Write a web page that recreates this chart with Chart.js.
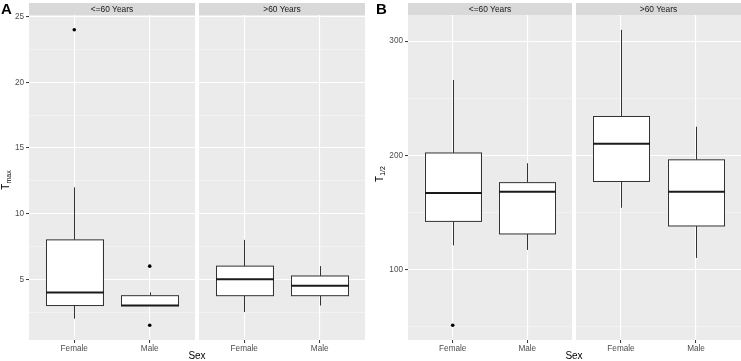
<!DOCTYPE html>
<html>
<head>
<meta charset="utf-8">
<script src="https://cdn.jsdelivr.net/npm/chart.js@4/dist/chart.umd.min.js"></script>
<style>
  body { margin: 0; background: #fff; width: 741px; height: 361px; position: relative; overflow: hidden; font-family: "Liberation Sans", Arial, sans-serif; }
  canvas { position: absolute; left: 0; top: 0; }
  .strip { position: absolute; top: 3px; height: 12px; line-height: 12px; background: #d9d9d9; color: #1a1a1a; font-size: 8.4px; text-align: center; }
  .tag { position: absolute; top: 0; font-size: 15px; font-weight: bold; color: #000; line-height: 17px; }
  .xtitle { position: absolute; top: 350px; font-size: 10px; color: #000; transform: translateX(-50%); }
  .ytitle { position: absolute; font-size: 10px; color: #000; white-space: nowrap; transform: translate(-50%, -50%) rotate(-90deg); }
  .ytitle sub { font-size: 7px; vertical-align: -2px; }
</style>
</head>
<body>
<canvas id="aYoung" width="741" height="361"></canvas>
<canvas id="aOld" width="741" height="361"></canvas>
<canvas id="bYoung" width="741" height="361"></canvas>
<canvas id="bOld" width="741" height="361"></canvas>

<div class="tag" style="left:1px">A</div>
<div class="tag" style="left:376px">B</div>
<div class="strip" style="left:29px;width:166px">&lt;=60 Years</div>
<div class="strip" style="left:199px;width:166px">&gt;60 Years</div>
<div class="strip" style="left:408px;width:164px">&lt;=60 Years</div>
<div class="strip" style="left:576px;width:165px">&gt;60 Years</div>
<div class="xtitle" style="left:197px">Sex</div>
<div class="xtitle" style="left:574px">Sex</div>
<div class="ytitle" style="left:6px;top:180px">T<sub>max</sub></div>
<div class="ytitle" style="left:380px;top:174px">T<sub>1/2</sub></div>

<script>
// categories
const sexes = ['Female', 'Male'];

// box stats per sex: [lower whisker, q1, median, q3, upper whisker]
const tmaxYoung = [[2, 3, 4, 8, 12], [3, 3, 3, 3.75, 4]];
const tmaxOld = [[2.5, 3.75, 5, 6, 8], [3, 3.75, 4.5, 5.25, 6]];
const thalfYoung = [[121, 142, 167, 202, 266], [117, 131, 168, 176, 193]];
const thalfOld = [[154, 177, 210, 234, 310], [110, 138, 168, 196, 225]];

// outliers per sex
const tmaxYoungOut = [[24], [6, 1.5]];
const tmaxOldOut = [[], []];
const thalfYoungOut = [[51], []];
const thalfOldOut = [[], []];

// y axis ticks and limits
const tmaxTicks = [5, 10, 15, 20, 25];
const thalfTicks = [100, 200, 300];
const tmaxLimits = [0.375, 25.125];
const thalfLimits = [38, 323];

Chart.defaults.font.family = '"Liberation Sans", Arial, sans-serif';
Chart.defaults.font.size = 8.2;
Chart.defaults.color = '#4d4d4d';

const W = 741, H = 361;
const BOX_W = 0.75;

const panelBg = {
  id: 'panelBg',
  beforeDraw(chart) {
    const a = chart.chartArea, ctx = chart.ctx;
    ctx.save();
    ctx.fillStyle = '#ebebeb';
    ctx.fillRect(a.left, a.top, a.right - a.left, a.bottom - a.top);
    ctx.restore();
  }
};

const boxes = {
  id: 'boxes',
  beforeDatasetsDraw(chart, args, opts) {
    const ctx = chart.ctx, xs = chart.scales.x, ys = chart.scales.y;
    ctx.save();
    opts.stats.forEach((s, i) => {
      const cx = xs.getPixelForValue(i + 1);
      const x0 = xs.getPixelForValue(i + 1 - BOX_W / 2);
      const x1 = xs.getPixelForValue(i + 1 + BOX_W / 2);
      const [lo, q1, med, q3, hi] = s.map(v => ys.getPixelForValue(v));
      ctx.strokeStyle = '#333333';
      ctx.lineWidth = 1;
      const xc = Math.round(cx) + 0.5;
      ctx.beginPath();
      ctx.moveTo(xc, lo); ctx.lineTo(xc, q1);
      ctx.moveTo(xc, q3); ctx.lineTo(xc, hi);
      ctx.stroke();
      ctx.fillStyle = '#ffffff';
      ctx.fillRect(x0, q3, x1 - x0, q1 - q3);
      ctx.strokeRect(Math.round(x0) + 0.5, q3, Math.round(x1 - x0), q1 - q3);
      ctx.lineWidth = 2;
      ctx.strokeStyle = '#1a1a1a';
      ctx.beginPath();
      ctx.moveTo(Math.round(x0), med); ctx.lineTo(Math.round(x1) + 1, med);
      ctx.stroke();
    });
    ctx.restore();
  }
};

function makeFacet(id, area, stats, outs, limits, majors, showY) {
  const step = majors[1] - majors[0];
  const all = [];
  for (let v = majors[0] - step / 2; v <= limits[1]; v += step / 2) {
    if (v >= limits[0]) all.push(v);
  }
  const isMajor = v => majors.includes(v);
  const yWidth = showY ? 30 : 0;
  const points = [];
  outs.forEach((list, i) => list.forEach(v => points.push({ x: i + 1, y: v })));

  new Chart(document.getElementById(id), {
    type: 'scatter',
    data: {
      datasets: [{
        data: points,
        backgroundColor: '#000000',
        borderWidth: 0,
        pointRadius: 1.8
      }]
    },
    plugins: [panelBg, boxes],
    options: {
      responsive: false,
      animation: false,
      events: [],
      layout: { padding: { left: area.left - yWidth, top: area.top, right: W - area.right, bottom: 0 } },
      plugins: {
        legend: { display: false },
        tooltip: { enabled: false },
        boxes: { stats: stats }
      },
      scales: {
        x: {
          type: 'linear',
          min: 0.4,
          max: 2.6,
          afterBuildTicks: s => { s.ticks = [{ value: 1 }, { value: 2 }]; },
          afterFit: s => { s.height = H - area.bottom; },
          ticks: { callback: v => sexes[v - 1], padding: 1, autoSkip: false, maxRotation: 0, color: '#4d4d4d' },
          grid: { color: '#ffffff', lineWidth: 1.1, tickColor: '#333333', tickLength: 3, tickWidth: 1 },
          border: { display: false }
        },
        y: {
          type: 'linear',
          min: limits[0],
          max: limits[1],
          afterBuildTicks: s => { s.ticks = all.map(v => ({ value: v })); },
          afterFit: s => { s.width = yWidth; },
          ticks: {
            display: showY,
            autoSkip: false,
            padding: 2,
            color: '#4d4d4d',
            callback: v => isMajor(v) ? String(v) : ''
          },
          grid: {
            color: ctx => isMajor(ctx.tick.value) ? '#ffffff' : 'rgba(255,255,255,0.6)',
            lineWidth: ctx => isMajor(ctx.tick.value) ? 1.1 : 0.6,
            drawTicks: showY,
            tickLength: 3,
            tickWidth: 1,
            tickColor: ctx => isMajor(ctx.tick.value) ? '#333333' : 'rgba(0,0,0,0)'
          },
          border: { display: false }
        }
      }
    }
  });
}

makeFacet('aYoung', { left: 29, top: 15, right: 195, bottom: 340 }, tmaxYoung, tmaxYoungOut, tmaxLimits, tmaxTicks, true);
makeFacet('aOld', { left: 199, top: 15, right: 365, bottom: 340 }, tmaxOld, tmaxOldOut, tmaxLimits, tmaxTicks, false);
makeFacet('bYoung', { left: 408, top: 15, right: 572, bottom: 340 }, thalfYoung, thalfYoungOut, thalfLimits, thalfTicks, true);
makeFacet('bOld', { left: 576, top: 15, right: 741, bottom: 340 }, thalfOld, thalfOldOut, thalfLimits, thalfTicks, false);
</script>
</body>
</html>
